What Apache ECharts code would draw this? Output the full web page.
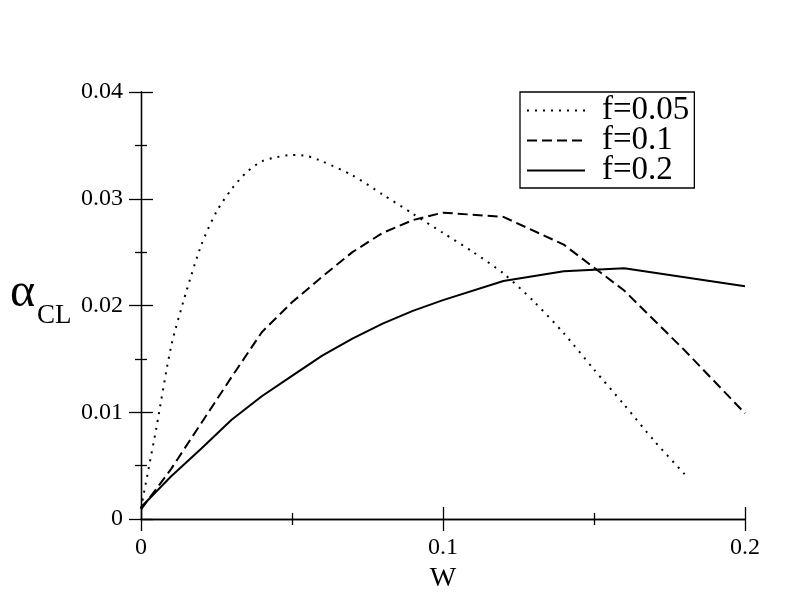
<!DOCTYPE html>
<html>
<head>
<meta charset="utf-8">
<script src="https://cdn.jsdelivr.net/npm/echarts@6/dist/echarts.min.js"></script>
<style>html,body{margin:0;padding:0;background:#fff}#c{width:792px;height:612px}</style>
</head>
<body>
<div id="c"></div>
<script>
// f = 0.05 (dotted)
const w005 = [0, 0.0025, 0.005, 0.01, 0.015, 0.02, 0.025, 0.03, 0.035, 0.04, 0.045, 0.05, 0.055, 0.06, 0.07, 0.08, 0.09, 0.1, 0.11, 0.12, 0.13, 0.14, 0.15, 0.16, 0.17, 0.18];
const a005 = [0.0010, 0.0047, 0.0084, 0.0162, 0.0213, 0.0257, 0.0288, 0.0309, 0.0325, 0.0335, 0.0339, 0.0341, 0.0340, 0.0335, 0.0322, 0.0304, 0.0286, 0.0268, 0.0250, 0.0230, 0.0204, 0.0174, 0.0140, 0.0107, 0.0073, 0.0042];
// f = 0.1 (dashed)
const w01 = [0, 0.01, 0.02, 0.03, 0.04, 0.05, 0.06, 0.07, 0.08, 0.09, 0.1, 0.12, 0.14, 0.16, 0.18, 0.2];
const a01 = [0.0009, 0.0047, 0.0090, 0.0133, 0.0175, 0.0203, 0.0227, 0.0250, 0.0268, 0.0280, 0.0287, 0.0283, 0.0257, 0.0214, 0.0158, 0.0099];
// f = 0.2 (solid)
const w02 = [0, 0.01, 0.02, 0.03, 0.04, 0.05, 0.06, 0.07, 0.08, 0.09, 0.1, 0.12, 0.14, 0.16, 0.2];
const a02 = [0.0011, 0.0040, 0.0066, 0.0093, 0.0115, 0.0134, 0.0153, 0.0169, 0.0183, 0.0195, 0.0205, 0.0223, 0.0232, 0.0235, 0.0218];

const seriesNames = ['f=0.05', 'f=0.1', 'f=0.2'];
const xTicks = [0, 0.1, 0.2];
const yTicks = [0, 0.01, 0.02, 0.03, 0.04];

const pair = (xs, ys) => xs.map((x, i) => [x, ys[i]]);
const FONT = '"Liberation Serif","DejaVu Serif",serif';

const chart = echarts.init(document.getElementById('c'), null, {renderer: 'canvas'});

function xAxisCfg(gridIndex, inside, labels) {
  return {
    gridIndex: gridIndex,
    type: 'value', min: 0, max: 0.2, interval: 0.1, position: 'bottom',
    axisLine: {show: true, onZero: false, lineStyle: {color: '#000', width: 1.3}},
    axisTick: {show: true, inside: inside, length: 12, lineStyle: {color: '#000', width: 1.3}},
    minorTick: {show: true, splitNumber: 2, length: 6, lineStyle: {color: '#000', width: 1.3}},
    splitLine: {show: false}, minorSplitLine: {show: false},
    axisLabel: {show: labels, margin: 17, color: '#000', fontFamily: FONT, fontSize: 24,
      formatter: v => (xTicks.indexOf(+v.toFixed(3)) >= 0 ? String(+v.toFixed(3)) : '')},
    name: labels ? 'W' : '', nameLocation: 'middle', nameGap: 45,
    nameTextStyle: {color: '#000', fontFamily: FONT, fontSize: 28}
  };
}
function yAxisCfg(gridIndex, inside, labels) {
  return {
    gridIndex: gridIndex,
    type: 'value', min: 0, max: 0.04, interval: 0.01, position: 'left',
    axisLine: {show: true, onZero: false, lineStyle: {color: '#000', width: 1.3}},
    axisTick: {show: true, inside: inside, length: 12, lineStyle: {color: '#000', width: 1.3}},
    minorTick: {show: true, splitNumber: 2, length: 6, lineStyle: {color: '#000', width: 1.3}},
    splitLine: {show: false}, minorSplitLine: {show: false},
    axisLabel: {show: labels, margin: 18, color: '#000', fontFamily: FONT, fontSize: 24,
      formatter: v => { const r = +v.toFixed(3); return yTicks.indexOf(r) >= 0 ? String(r) : ''; }}
  };
}

const lineTypes = [[2, 6], [10, 5], 'solid'];
const datasets = [pair(w005, a005), pair(w01, a01), pair(w02, a02)];
const gridRect = {left: 141, right: 47, top: 92, bottom: 93, containLabel: false};

chart.setOption({
  backgroundColor: '#fff',
  animation: false,
  grid: [Object.assign({}, gridRect), Object.assign({}, gridRect)],
  xAxis: [xAxisCfg(0, false, true), xAxisCfg(1, true, false)],
  yAxis: [yAxisCfg(0, false, true), yAxisCfg(1, true, false)],
  legend: {
    orient: 'vertical', left: 520, top: 92,
    data: seriesNames,
    itemWidth: 58, itemHeight: 14, itemGap: -3,
    padding: [2, 5, 1, 6],
    borderColor: '#000', borderWidth: 1.3, borderRadius: 0,
    backgroundColor: '#fff',
    itemStyle: {opacity: 0},
    textStyle: {color: '#000', fontFamily: FONT, fontSize: 33, lineHeight: 30, padding: [0, 0, 0, 12]}
  },
  series: seriesNames.map((n, i) => ({
    name: n, type: 'line', data: datasets[i], showSymbol: false, symbol: 'none',
    smooth: i === 0 ? 0.25 : false, xAxisIndex: 0, yAxisIndex: 0,
    lineStyle: {color: '#000', width: 2, type: lineTypes[i]},
    itemStyle: {color: '#000'}
  })),
  graphic: [
    {type: 'text', left: 10, top: 269, style: {text: 'α', font: '48px ' + FONT, fill: '#000'}},
    {type: 'text', left: 37, top: 302, style: {text: 'CL', font: '27px ' + FONT, fill: '#000'}}
  ]
});
</script>
</body>
</html>
